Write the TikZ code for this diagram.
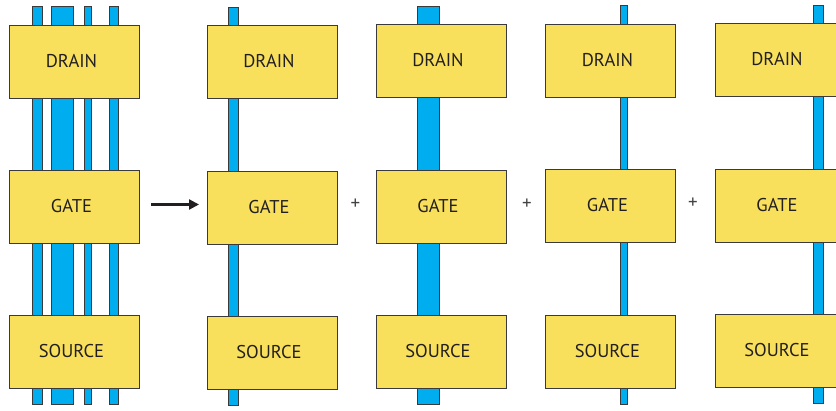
\documentclass[tikz,border=0pt]{standalone}
\usepackage{fontspec}
\setmainfont{PT Sans}
\usetikzlibrary{arrows.meta}
\definecolor{padfill}{HTML}{F8E05C}
\definecolor{padline}{HTML}{3A3A3A}
\definecolor{channel}{HTML}{00AEEF}
\definecolor{ink}{HTML}{231F20}
\tikzset{
  pad/.style={draw=padline, line width=0.9pt, fill=padfill, text=ink,
    minimum width=130pt, minimum height=73pt, inner sep=0pt,
    font=\fontsize{18.5}{20}\selectfont,
    execute at end node={\hspace*{6pt}}},
  chan/.style={draw=padline, line width=0.6pt, fill=channel},
  plussign/.style={text=ink!85, font=\fontsize{19}{20}\selectfont, inner sep=0pt},
  arrowline/.style={draw=ink, line width=2.3pt, -{Triangle[length=10pt,width=10pt]}}
}
\begin{document}
\begin{tikzpicture}[x=1pt,y=-1pt]
\useasboundingbox[fill=white] (0,0) rectangle (836,411);
% channels of the full transistor
\draw[chan] (32,6) rectangle (42,404);
\draw[chan] (51,6) rectangle (73,404);
\draw[chan] (84,6) rectangle (91,404);
\draw[chan] (109,6) rectangle (118,404);
% single channels of the decomposition
\draw[chan] (228,7) rectangle (238,405);
\draw[chan] (417,6) rectangle (439,404);
\draw[chan] (620,5) rectangle (627,404);
\draw[chan] (813,5) rectangle (823,403);
% terminals
\node[pad] (d1) at (74.5,61.5) {DRAIN};
\node[pad] (g1) at (74.5,206.5) {GATE};
\node[pad] (s1) at (74.5,351.5) {SOURCE};
\node[pad] (d2) at (272,61.5) {DRAIN};
\node[pad] (g2) at (272,207.5) {GATE};
\node[pad] (s2) at (272,352.5) {SOURCE};
\node[pad] (d3) at (441,60.5) {DRAIN};
\node[pad] (g3) at (441,206.5) {GATE};
\node[pad] (s3) at (441,351.5) {SOURCE};
\node[pad] (d4) at (610.5,60.5) {DRAIN};
\node[pad] (g4) at (610.5,205.5) {GATE};
\node[pad] (s4) at (610.5,351.5) {SOURCE};
\node[pad] (d5) at (780,59.5) {DRAIN};
\node[pad] (g5) at (780,205.5) {GATE};
\node[pad] (s5) at (780,350.5) {SOURCE};
% equivalence arrow and sums
\coordinate (arrowstart) at (151,204.5);
\coordinate (arrowend) at (199,204.5);
\draw[arrowline] (arrowstart) -- (arrowend);
\node[plussign] (p1) at (355.5,204) {+};
\node[plussign] (p2) at (527,204) {+};
\node[plussign] (p3) at (693,203) {+};
\end{tikzpicture}
\end{document}
